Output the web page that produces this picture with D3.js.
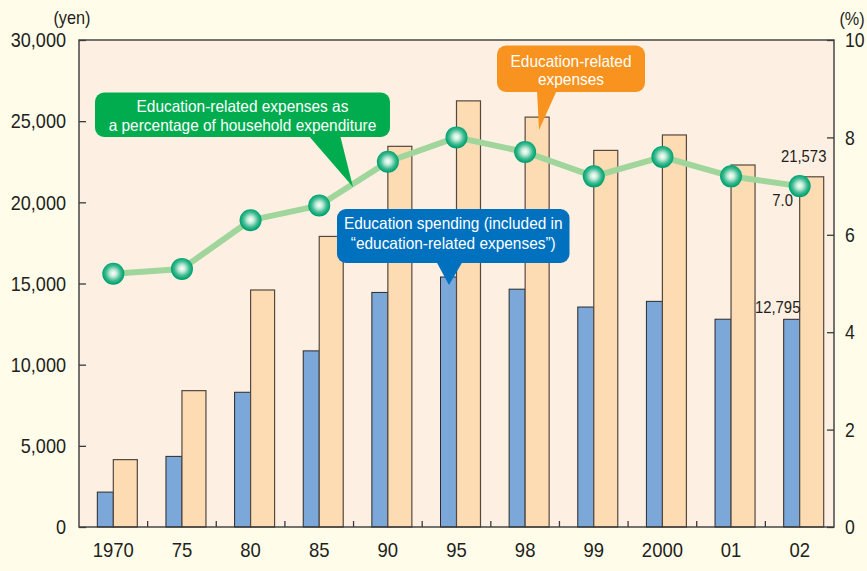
<!DOCTYPE html>
<html>
<head>
<meta charset="utf-8">
<script src="https://cdn.jsdelivr.net/npm/d3@7"></script>
<style>
  html, body { margin: 0; padding: 0; background: #FFFDEA; }
  svg { display: block; }
  text { font-family: "Liberation Sans", Arial, sans-serif; }
</style>
</head>
<body>
<svg id="chart" width="867" height="571"></svg>
<script>
const categories = ["1970", "75", "80", "85", "90", "95", "98", "99", "2000", "01", "02"];
const educationSpending = [2150, 4350, 8300, 10850, 14450, 15400, 14650, 13550, 13900, 12800, 12795];
const educationRelated = [4150, 8400, 14600, 17900, 23450, 26250, 25250, 23200, 24150, 22300, 21573];
const percentage = [5.2, 5.3, 6.3, 6.6, 7.5, 8.0, 7.7, 7.2, 7.6, 7.2, 7.0];
const yenTicks = [0, 5000, 10000, 15000, 20000, 25000, 30000];
const pctTicks = [0, 2, 4, 6, 8, 10];

(function () {
const svg = d3.select("#chart");
const W = 867, H = 571;
const pLeft = 79, pRight = 834, pTop = 40, pBottom = 527;
const FONT = '"Liberation Sans", Arial, sans-serif';
const INK = "#231F20";

// horizontally condense text to mimic a narrow typeface
function condense(sel, f) {
  sel.each(function () {
    const w = this.getComputedTextLength();
    d3.select(this).attr("textLength", w * f).attr("lengthAdjust", "spacingAndGlyphs");
  });
}

svg.append("rect").attr("width", W).attr("height", H).attr("fill", "#FFFDEA");

const x = d3.scaleBand().domain(categories).range([pLeft, pRight]).padding(0);
const yL = d3.scaleLinear().domain([0, 30000]).range([pBottom, pTop]);
const yR = d3.scaleLinear().domain([0, 10]).range([pBottom, pTop]);

svg.append("rect").attr("x", pLeft).attr("y", pTop)
  .attr("width", pRight - pLeft).attr("height", pBottom - pTop)
  .attr("fill", "#FDF0E3");

const defs = svg.append("defs");
const grad = defs.append("radialGradient").attr("id", "ball")
  .attr("cx", "50%").attr("cy", "48%").attr("r", "55%");
grad.append("stop").attr("offset", "0%").attr("stop-color", "#FFFFFF");
grad.append("stop").attr("offset", "28%").attr("stop-color", "#C4EBD9");
grad.append("stop").attr("offset", "62%").attr("stop-color", "#3DBB90");
grad.append("stop").attr("offset", "88%").attr("stop-color", "#00A271");
grad.append("stop").attr("offset", "100%").attr("stop-color", "#009462");

const blueW = 16, orangeW = 24;
const cx = d => x(d) + x.bandwidth() / 2;

svg.append("g").selectAll("rect").data(categories).join("rect")
  .attr("x", d => cx(d) - blueW)
  .attr("y", (d, i) => yL(educationSpending[i]))
  .attr("width", blueW)
  .attr("height", (d, i) => pBottom - yL(educationSpending[i]))
  .attr("fill", "#7BA7D9").attr("stroke", "#2a2a2a").attr("stroke-width", 1);

svg.append("g").selectAll("rect").data(categories).join("rect")
  .attr("x", d => cx(d))
  .attr("y", (d, i) => yL(educationRelated[i]))
  .attr("width", orangeW)
  .attr("height", (d, i) => pBottom - yL(educationRelated[i]))
  .attr("fill", "#FDDBB3").attr("stroke", "#54483f").attr("stroke-width", 1.2);

svg.append("rect").attr("x", pLeft).attr("y", pTop)
  .attr("width", pRight - pLeft).attr("height", pBottom - pTop)
  .attr("fill", "none").attr("stroke", "#3a3a3a").attr("stroke-width", 1.4);

const axL = d3.axisLeft(yL).tickValues(yenTicks).tickSize(-7).tickPadding(13)
  .tickFormat(d3.format(","));
const gL = svg.append("g").attr("transform", `translate(${pLeft},0)`).call(axL);
gL.select(".domain").remove();
gL.selectAll("line").attr("stroke", "#3a3a3a").attr("stroke-width", 1.3);
gL.selectAll("text").attr("font-size", 21).attr("fill", INK).attr("font-family", FONT)
  .call(condense, 0.86);

const axR = d3.axisRight(yR).tickValues(pctTicks).tickSize(-7).tickPadding(11);
const gR = svg.append("g").attr("transform", `translate(${pRight},0)`).call(axR);
gR.select(".domain").remove();
gR.selectAll("line").attr("stroke", "#3a3a3a").attr("stroke-width", 1.3);
gR.selectAll("text").attr("font-size", 21).attr("fill", INK).attr("font-family", FONT)
  .call(condense, 0.84);

const axB = d3.axisBottom(x).tickSize(0).tickPadding(15);
const gB = svg.append("g").attr("transform", `translate(0,${pBottom})`).call(axB);
gB.select(".domain").remove();
gB.selectAll("text").attr("font-size", 21).attr("fill", INK).attr("font-family", FONT)
  .call(condense, 0.88);

svg.append("g").selectAll("line").data(categories.slice(1)).join("line")
  .attr("x1", d => x(d)).attr("x2", d => x(d))
  .attr("y1", pBottom).attr("y2", pBottom - 6)
  .attr("stroke", "#3a3a3a").attr("stroke-width", 1.3);

svg.append("text").attr("x", 72).attr("y", 24).attr("text-anchor", "middle")
  .attr("font-size", 18.5).attr("fill", INK).text("(yen)").call(condense, 0.88);
svg.append("text").attr("x", 852).attr("y", 25).attr("text-anchor", "middle")
  .attr("font-size", 18).attr("fill", INK).text("(%)").call(condense, 0.9);

const line = d3.line().x((d, i) => cx(categories[i])).y(d => yR(d));
svg.append("path").datum(percentage).attr("d", line)
  .attr("fill", "none").attr("stroke", "#A0D59B").attr("stroke-width", 6)
  .attr("stroke-linejoin", "round");

svg.append("g").selectAll("circle").data(percentage).join("circle")
  .attr("cx", (d, i) => cx(categories[i])).attr("cy", d => yR(d))
  .attr("r", 11).attr("fill", "url(#ball)");

const last = categories.length - 1;
svg.append("text").attr("x", cx(categories[last]) + 4).attr("y", 162)
  .attr("text-anchor", "middle").attr("font-size", 16.5).attr("fill", INK)
  .text(d3.format(",")(educationRelated[last])).call(condense, 0.9);
svg.append("text").attr("x", cx(categories[last]) - 17).attr("y", 206)
  .attr("text-anchor", "middle").attr("font-size", 16.5).attr("fill", INK)
  .text(d3.format(".1f")(percentage[last])).call(condense, 0.9);
svg.append("text").attr("x", cx(categories[last]) - 22).attr("y", 313)
  .attr("text-anchor", "middle").attr("font-size", 16.5).attr("fill", INK)
  .text(d3.format(",")(educationSpending[last])).call(condense, 0.9);

function callout(box, pointer, color, lines, baselines) {
  const g = svg.append("g");
  g.append("rect").attr("x", box[0]).attr("y", box[1])
    .attr("width", box[2] - box[0]).attr("height", box[3] - box[1])
    .attr("rx", 9).attr("fill", color);
  g.append("path").attr("d", "M" + pointer.map(p => p.join(",")).join("L") + "Z").attr("fill", color);
  const mid = (box[0] + box[2]) / 2;
  lines.forEach((t, i) => {
    g.append("text").attr("x", mid).attr("y", baselines[i]).attr("text-anchor", "middle")
      .attr("font-size", 16.5).attr("fill", "#FFFFFF").text(t).call(condense, 0.935);
  });
}

callout([95, 92.5, 390, 137], [[308, 135], [340, 135], [353, 187]], "#00AC4E",
  ["Education-related expenses as", "a percentage of household expenditure"], [112, 130.5]);
callout([497, 45.5, 645, 92], [[537, 90], [557, 90], [539, 130]], "#F7931E",
  ["Education-related", "expenses"], [67, 85]);
callout([337, 209, 569.5, 263], [[436, 261], [463, 261], [449, 285]], "#0071BF",
  ["Education spending (included in", "\u201Ceducation-related expenses\u201D)"], [229, 249]);
})();
</script>
</body>
</html>
